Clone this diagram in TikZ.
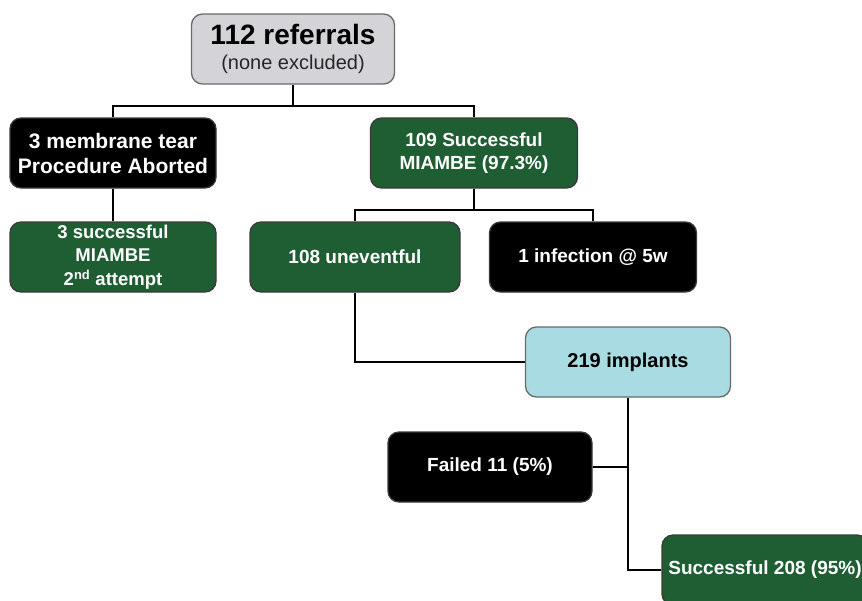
\documentclass[tikz,border=0pt]{standalone}
\usepackage{fontspec}
\setmainfont{Liberation Sans}
\definecolor{mygreen}{HTML}{1E5E32}
\definecolor{boxline}{HTML}{3A3A3A}
\definecolor{topgray}{HTML}{D4D4D8}
\definecolor{topline}{HTML}{6A6A6A}
\definecolor{lightblue}{HTML}{A8DCE2}
\definecolor{textgray}{HTML}{262626}
\begin{document}
\begin{tikzpicture}[x=1pt,y=-1pt,
  box/.style={draw=boxline, line width=1.3pt, rounded corners=11pt,
    minimum width=205pt, minimum height=70pt, inner sep=0pt, align=center,
    font=\bfseries\fontsize{19}{23}\selectfont, text=white},
  greenbox/.style={box, fill=mygreen},
  blackbox/.style={box, fill=black},
  conn/.style={line width=2.8pt, black}]
\useasboundingbox (0,0) rectangle (862,600);
\clip (0,0) rectangle (862,600);

\coordinate (j1) at (293,106);
\coordinate (j2) at (474,210);

\node[box, fill=topgray, draw=topline, text=black, minimum width=203pt] (top) at (293,49)
  {\fontsize{28}{30}\selectfont 112 referrals\\[2pt]{\mdseries\fontsize{20}{22}\selectfont\color{textgray}(none excluded)}};
\node[blackbox, minimum width=206pt, font=\bfseries\fontsize{21}{25}\selectfont] (tear) at (113,153) {3 membrane tear\\Procedure Aborted};
\node[greenbox, minimum width=207pt] (mia) at (474,153) {109 Successful\\MIAMBE (97.3\%)};
\node[greenbox, minimum width=206pt, font=\bfseries\fontsize{18.5}{23.5}\selectfont] (succ3) at (113,257) {3 successful\\MIAMBE\\2\textsuperscript{nd} attempt};
\node[greenbox, minimum width=210pt] (unev) at (355,257) {108 uneventful};
\node[blackbox, minimum width=207pt] (inf) at (593,257) {1 infection @ 5w};
\node[box, fill=lightblue, draw=topline, text=black, font=\bfseries\fontsize{20}{24}\selectfont] (imp) at (628,362) {219 implants};
\node[blackbox, minimum width=204pt] (fail) at (490,467) {Failed 11 (5\%)};
\node[greenbox, minimum width=206pt] (s208) at (765,570) {Successful 208 (95\%)};

\draw[conn] (top.south) -- (j1);
\draw[conn] (tear.north) |- (j1);
\draw[conn] (mia.north) |- (j1);
\draw[conn] (tear.south) -- (succ3.north);
\draw[conn] (mia.south) -- (j2);
\draw[conn] (unev.north) |- (j2);
\draw[conn] (inf.north) |- (j2);
\draw[conn] (unev.south) |- (imp.west);
\draw[conn] (imp.south) |- (s208.west);
\draw[conn] (fail.east) -- (fail.east -| imp.south);
\end{tikzpicture}
\end{document}
